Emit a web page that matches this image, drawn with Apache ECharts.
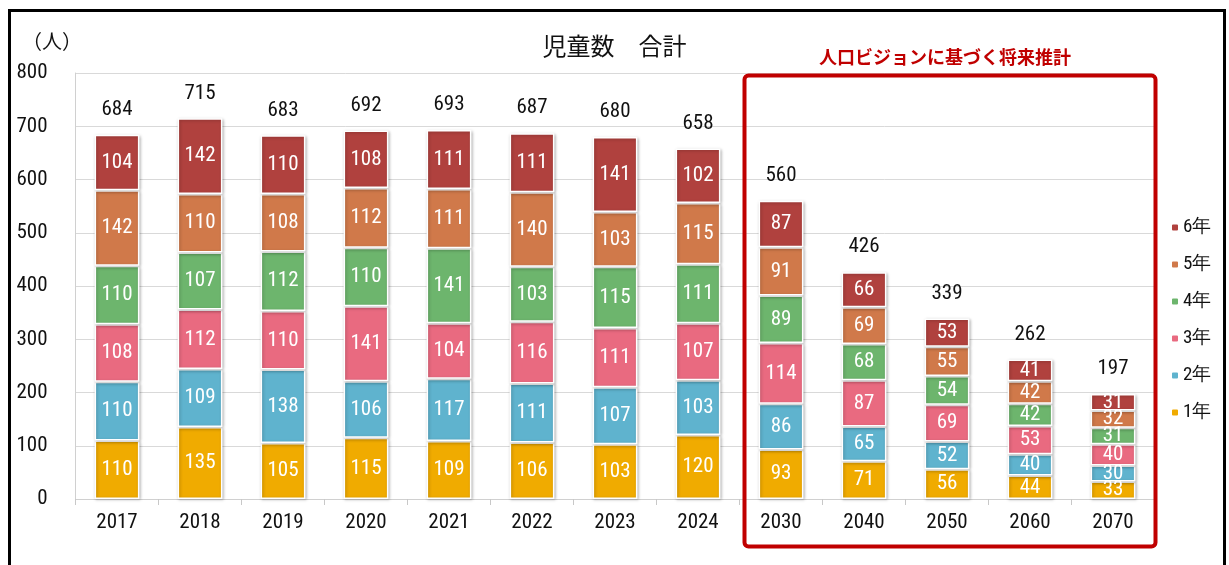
<!DOCTYPE html>
<html><head><meta charset="utf-8">
<script src="https://cdn.jsdelivr.net/npm/echarts@6/dist/echarts.min.js"></script>
<style>html,body{margin:0;padding:0;background:#fff}#c{width:1229px;height:565px}</style>
</head><body><div id="c"></div>
<script>
const categories = ['2017','2018','2019','2020','2021','2022','2023','2024','2030','2040','2050','2060','2070'];
const grade1 = [110,135,105,115,109,106,103,120,93,71,56,44,33];
const grade2 = [110,109,138,106,117,111,107,103,86,65,52,40,30];
const grade3 = [108,112,110,141,104,116,111,107,114,87,69,53,40];
const grade4 = [110,107,112,110,141,103,115,111,89,68,54,42,31];
const grade5 = [142,110,108,112,111,140,103,115,91,69,55,42,32];
const grade6 = [104,142,110,108,111,111,141,102,87,66,53,41,31];
const totals = [684,715,683,692,693,687,680,658,560,426,339,262,197];
const yTicks = [0,100,200,300,400,500,600,700,800];

const names = ['1年','2年','3年','4年','5年','6年'];
const colors = ['#F0AB00','#5FB3CE','#E96A80','#6DB56D','#D0794A','#B0413E'];
const grades = [grade1,grade2,grade3,grade4,grade5,grade6];
const FONT = "'Liberation Sans Narrow','Roboto Condensed','Roboto',sans-serif";

const chart = echarts.init(document.getElementById('c'));
const series = grades.map((g,i)=>({
  name: names[i], type:'bar', stack:'all', data:g, barWidth:'54%',
  itemStyle:{color:colors[i], borderColor:'#fff', borderWidth:1.5,
    shadowBlur:3, shadowColor:'rgba(0,0,0,0.25)', shadowOffsetX:1, shadowOffsetY:1},
  label:{show:true, position:'inside', color:'#fff', fontSize:21, fontFamily:FONT},
  emphasis:{disabled:true}
}));
series.push({
  name:'合計', type:'line', data:totals, symbol:'circle', symbolSize:1, showSymbol:true,
  itemStyle:{color:'rgba(0,0,0,0)'}, lineStyle:{width:0, opacity:0},
  label:{show:true, position:'top', distance:14, color:'#111', fontSize:21, fontFamily:FONT},
  z:10, silent:true
});
chart.setOption({
  animation:false,
  title:{text:'児童数　合計', left:'center', top:29,
    textStyle:{fontSize:24, fontWeight:'normal', color:'#111', fontFamily:"'Noto Sans CJK JP',sans-serif"}},
  legend:{orient:'vertical', left:1165, top:213, itemWidth:8, itemHeight:8, itemGap:18,
    data:['6年','5年','4年','3年','2年','1年'],
    textStyle:{fontSize:19, color:'#111', fontFamily:FONT, padding:[0,0,0,-1]}},
  grid:{left:75.5, right:74.5, top:73, bottom:66},
  xAxis:{type:'category', data:categories,
    axisLine:{lineStyle:{color:'#d0d0d0'}},
    axisTick:{show:true, alignWithLabel:false, length:6, lineStyle:{color:'#c8c8c8'}},
    axisLabel:{color:'#111', fontSize:21, fontFamily:FONT, margin:13}},
  yAxis:{type:'value', min:yTicks[0], max:yTicks[yTicks.length-1], interval:100,
    axisLine:{show:true, lineStyle:{color:'#d0d0d0'}}, axisTick:{show:false},
    splitLine:{lineStyle:{color:'#d9d9d9'}},
    axisLabel:{color:'#111', fontSize:21, fontFamily:FONT, margin:28}},
  graphic:[
    {type:'rect', left:7, top:8, shape:{width:1215, height:580}, style:{fill:'none', stroke:'#000', lineWidth:3}, silent:true},
    {type:'text', left:22, top:31, style:{text:'（人）', fill:'#111', font:"20px 'Noto Sans CJK JP'"}},
    {type:'rect', left:742, top:73, shape:{width:411, height:471, r:4}, style:{fill:'none', stroke:'#C00000', lineWidth:4}, silent:true, z:100},
    {type:'text', left:819, top:48, style:{text:'人口ビジョンに基づく将来推計', fill:'#C00000', font:"bold 18px 'Noto Sans CJK JP'"}, z:100}
  ],
  series:series
});
</script></body></html>
